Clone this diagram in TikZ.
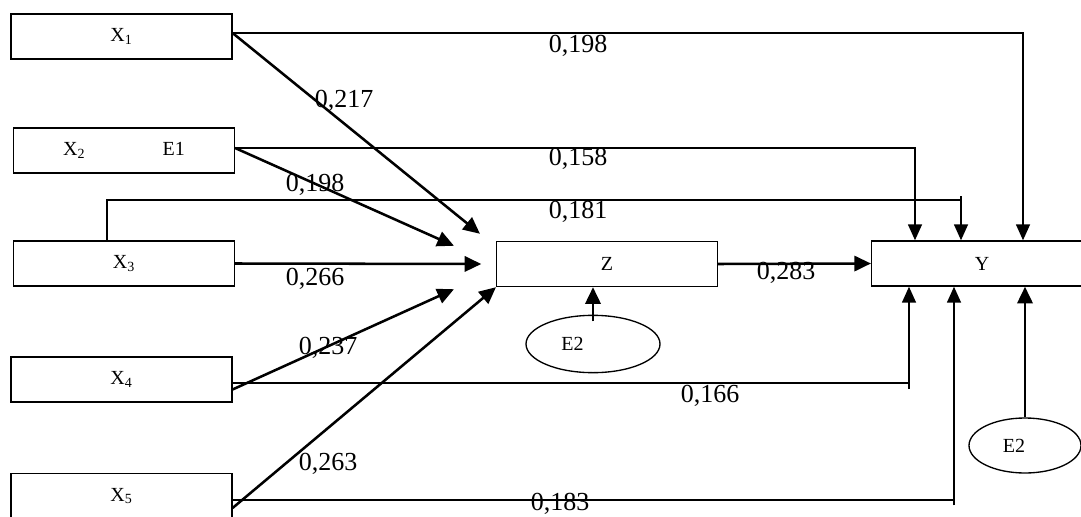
\documentclass[tikz,border=0pt]{standalone}
\usepackage{fontspec}
\setmainfont{Liberation Serif}
\usetikzlibrary{arrows.meta,shapes.geometric}

\begin{document}
\begin{tikzpicture}[x=0.75pt,y=-0.75pt,
    var/.style={draw,line width=1.1pt,minimum width=165.5pt,minimum height=33.75pt,inner sep=0pt,font=\fontsize{15}{17}\selectfont},
    err/.style={draw,ellipse,line width=1pt,inner sep=0pt,font=\fontsize{15}{17}\selectfont},
    coef/.style={inner sep=0pt,font=\fontsize{19.5}{22}\selectfont},
    link/.style={line width=1.2pt},
    arr/.style={line width=1.2pt,-{Triangle[length=12pt,width=10.5pt]}},
    toz/.style={line width=1.9pt,-{Triangle[length=12.5pt,width=11.5pt]}}]
    \useasboundingbox (0,0) rectangle (1081,517);

    \node[var] (x1) at (121.5,36.5) {X\textsubscript{1}};
    \node[var] (x2) at (124,150.5) {X\textsubscript{2}\hspace{58pt}E1};
    \node[var] (x3) at (124,263.5) {X\textsubscript{3}};
    \node[var] (x4) at (121.5,379.5) {X\textsubscript{4}};
    \node[var] (x5) at (121.5,496) {X\textsubscript{5}};
    \node[var] (z) at (607,264) {Z};
    \node[var] (y) at (982,263.5) {Y};
    \node[err,minimum width=100.5pt,minimum height=43pt] (e2z) at (593,344) {E2\hspace*{30.75pt}};
    \node[err,minimum width=84pt,minimum height=41.25pt] (e2y) at (1025,445.5) {E2\hspace*{16.5pt}};

    \coordinate (c1) at (1023,33);
    \coordinate (c2) at (915,148);
    \coordinate (c3a) at (107,200);
    \coordinate (c3) at (961,200);
    \coordinate (c4) at (909,383);
    \coordinate (c5) at (954,500);

    \draw[arr] (x1.east |- c1) -- (c1) -- (c1 |- y.north);
    \draw[arr] (x2.east |- c2) -- (c2) -- (c2 |- y.north);
    \draw[link] (c3a |- x3.north) -- (c3a) -- (c3);
    \draw[arr] ([yshift=3pt]c3) -- (c3 |- y.north);
    \draw[link] (x4.east |- c4) -- (c4);
    \draw[arr] ([yshift=-4.5pt]c4) -- (c4 |- y.south);
    \draw[link] (x5.east |- c5) -- (c5);
    \draw[arr] ([yshift=-4pt]c5) -- (c5 |- y.south);

    \draw[toz] (x1.east |- c1) -- ([shift={(-16,-7)}]z.north west);
    \draw[toz] (x2.east |- c2) -- ([shift={(-42,5)}]z.north west);
    \draw[toz] (x3.east) -- ([xshift=-11pt]z.west);
    \draw[toz] ([yshift=-7.5pt]x4.east) -- ([shift={(-42,2)}]z.south west);
    \draw[toz] ([yshift=-9pt]x5.east) -- (z.south west);
    \draw[toz] (z.east) -- (y.west);
    \draw[toz] ([yshift=-5pt]e2z.north) -- (e2z.north |- z.south);
    \draw[toz] (e2y.north) -- (e2y.north |- y.south);

    \node[coef] (b1) at (578,46) {0,198};
    \node[coef] (b2) at (344,101) {0,217};
    \node[coef] (b3) at (578,159) {0,158};
    \node[coef] (b4) at (315,185) {0,198};
    \node[coef] (b5) at (578,212) {0,181};
    \node[coef] (b6) at (315,279) {0,266};
    \node[coef] (b7) at (786,273) {0,283};
    \node[coef] (b8) at (328,348) {0,237};
    \node[coef] (b9) at (710,396) {0,166};
    \node[coef] (b10) at (328,464) {0,263};
    \node[coef] (b11) at (560,504) {0,183};
\end{tikzpicture}
\end{document}
